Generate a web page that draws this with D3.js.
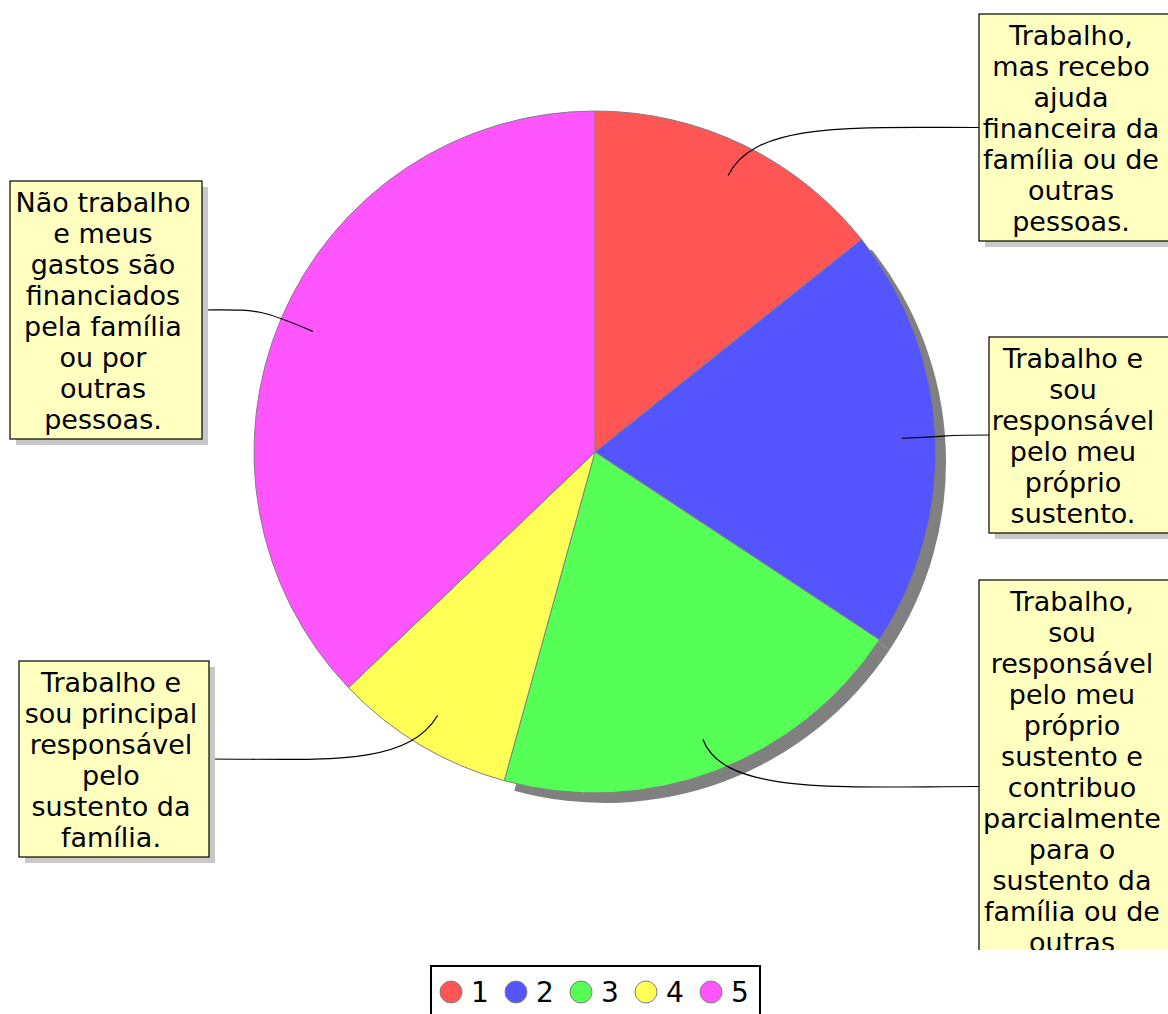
<!DOCTYPE html>
<html>
<head>
<meta charset="utf-8">
<script src="https://cdn.jsdelivr.net/npm/d3@7"></script>
<style>
body { margin: 0; background: #fff; }
svg { display: block; }
</style>
</head>
<body>
<div id="chart"></div>
<script>
// chart data
var categories = ["1", "2", "3", "4", "5"];
var values = [5, 7, 7, 3, 13];
var labels = [
	"Trabalho,\nmas recebo\najuda\nfinanceira da\nfamília ou de\noutras\npessoas.",
	"Trabalho e\nsou\nresponsável\npelo meu\npróprio\nsustento.",
	"Trabalho,\nsou\nresponsável\npelo meu\npróprio\nsustento e\ncontribuo\nparcialmente\npara o\nsustento da\nfamília ou de\noutras\npessoas.",
	"Trabalho e\nsou principal\nresponsável\npelo\nsustento da\nfamília.",
	"Não trabalho\ne meus\ngastos são\nfinanciados\npela família\nou por\noutras\npessoas."
];

// styles / layout
var colours = ["#ff5555", "#5555ff", "#55ff55", "#ffff55", "#ff55ff"];
var shadowed = [false, true, true, false, false];
// box left, top, width and the x of the text centre inside the box
var boxLayout = [
	{x: 979, y: 14, w: 200, c: 92},
	{x: 989, y: 337, w: 190, c: 84},
	{x: 979, y: 580, w: 200, c: 93},
	{x: 19, y: 661, w: 190, c: 92},
	{x: 10, y: 181, w: 192, c: 93}
];

var width = 1168, height = 1014;
var cx = 595, cy = 452, radius = 341;
var lineH = 31;
var font = "'DejaVu Sans', sans-serif";

var svg = d3.select("#chart")
	.append("svg")
	.attr("width", width)
	.attr("height", height);

svg.append("defs").append("clipPath")
	.attr("id", "plotclip")
	.append("rect")
	.attr("x", 0).attr("y", 0)
	.attr("width", width).attr("height", 950);

var pie = d3.pie().sort(null).value(function(d) { return d; });
var arcs = pie(values);
var arc = d3.arc().innerRadius(0).outerRadius(radius);

var g = svg.append("g").attr("transform", "translate(" + cx + "," + cy + ")");

// shadows for some slices
g.selectAll("path.shadow")
	.data(arcs.filter(function(d, i) { return shadowed[i]; }))
	.enter()
	.append("path")
	.attr("class", "shadow")
	.attr("transform", "translate(10,10)")
	.attr("d", arc)
	.style("fill", "#808080");

g.selectAll("path.slice")
	.data(arcs)
	.enter()
	.append("path")
	.attr("class", "slice")
	.attr("d", arc)
	.style("fill", function(d, i) { return colours[i]; })
	.style("stroke", "#808080")
	.style("stroke-width", 1);

// labels
var plot = svg.append("g").attr("clip-path", "url(#plotclip)");

arcs.forEach(function(d, i) {
	var b = boxLayout[i];
	var lines = labels[i].split("\n");
	var h = lines.length * lineH + 10;
	var mid = (d.startAngle + d.endAngle) / 2;
	var dir = [Math.sin(mid), -Math.cos(mid)];
	var tx = cx + dir[0] * radius * 0.9;
	var ty = cy + dir[1] * radius * 0.9;
	var onRight = b.x > cx;
	var ax = onRight ? b.x : b.x + b.w;
	var ay = b.y + h / 2;
	var p = d3.path();
	p.moveTo(ax, ay);
	p.bezierCurveTo(ax + (tx - ax) * 0.5, ay, tx + dir[0] * 60, ty + dir[1] * 60, tx, ty);
	plot.append("path")
		.attr("d", p.toString())
		.style("fill", "none")
		.style("stroke", "#000")
		.style("stroke-width", 1.2);

	plot.append("rect")
		.attr("x", b.x + 6).attr("y", b.y + 6)
		.attr("width", b.w).attr("height", h)
		.style("fill", "#c8c8c8");
	plot.append("rect")
		.attr("x", b.x).attr("y", b.y)
		.attr("width", b.w).attr("height", h)
		.style("fill", "#ffffc0")
		.style("stroke", "#000")
		.style("stroke-width", 1.2);
	var t = plot.append("text")
		.attr("font-family", font)
		.attr("font-size", "27px")
		.attr("text-anchor", "middle");
	lines.forEach(function(l, j) {
		t.append("tspan")
			.attr("x", b.x + b.c)
			.attr("y", b.y + lineH * (j + 1))
			.text(l);
	});
});

// legend
var legend = svg.append("g");
legend.append("rect")
	.attr("x", 431).attr("y", 966)
	.attr("width", 329).attr("height", 70)
	.style("fill", "#fff")
	.style("stroke", "#000")
	.style("stroke-width", 2);

var item = legend.selectAll("g.item")
	.data(categories)
	.enter()
	.append("g")
	.attr("class", "item")
	.attr("transform", function(d, i) { return "translate(" + (451 + i * 65) + ",992)"; });
item.append("circle")
	.attr("r", 11)
	.style("fill", function(d, i) { return colours[i]; })
	.style("stroke", "#808080")
	.style("stroke-width", 1);
item.append("text")
	.attr("x", 20)
	.attr("y", 10)
	.attr("font-family", font)
	.attr("font-size", "28px")
	.text(function(d) { return d; });
</script>
</body>
</html>
